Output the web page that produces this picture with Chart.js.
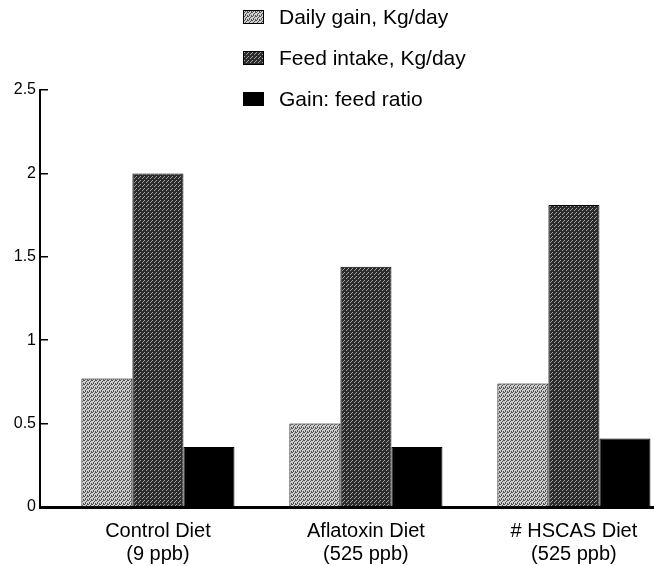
<!DOCTYPE html>
<html>
<head>
<meta charset="utf-8">
<script src="https://cdn.jsdelivr.net/npm/chart.js@4.4.1/dist/chart.umd.min.js"></script>
<style>
    html, body { margin: 0; padding: 0; background: #fff; overflow: hidden; }
    #wrap { width: 654px; height: 566px; }
</style>
</head>
<body>
<div id="wrap"><canvas id="chart" width="654" height="566"></canvas></div>
<script>
// values
const categories = [
    ["Control Diet", "(9 ppb)"],
    ["Aflatoxin Diet", "(525 ppb)"],
    ["# HSCAS Diet", "(525 ppb)"],
];
const seriesNames = ["Daily gain, Kg/day", "Feed intake, Kg/day", "Gain: feed ratio"];
const dailyGain = [0.77, 0.50, 0.74];
const feedIntake = [2.00, 1.44, 1.81];
const gainFeedRatio = [0.36, 0.36, 0.41];
const yTicks = [0, 0.5, 1, 1.5, 2, 2.5];

const FONT = "'Liberation Sans', Arial, Helvetica, sans-serif";

// small stipple patterns to imitate the printed screens
function makePattern(base, dot, cells) {
    const c = document.createElement("canvas");
    c.width = 4;
    c.height = 4;
    const g = c.getContext("2d");
    g.fillStyle = base;
    g.fillRect(0, 0, 4, 4);
    g.fillStyle = dot;
    cells.forEach(([x, y]) => g.fillRect(x, y, 1, 1));
    return g.createPattern(c, "repeat");
}

const lightScreen = makePattern("#cfcfcf", "#505050", [[0, 0], [2, 1], [1, 2], [3, 3], [3, 0], [1, 3]]);
const darkScreen = makePattern("#2c2c2c", "#a0a0a0", [[0, 0], [2, 2], [3, 1]]);

const toPoints = arr => arr.map((v, i) => ({ x: i, y: v }));

// legend drawn as a stacked column above the plot
const stackedLegend = {
    id: "stackedLegend",
    afterDraw(chart) {
        const ctx = chart.ctx;
        ctx.save();
        ctx.font = "21px " + FONT;
        ctx.textBaseline = "middle";
        chart.data.datasets.forEach((ds, i) => {
            const cy = 17 + i * 41;
            ctx.fillStyle = ds.backgroundColor;
            ctx.fillRect(243, cy - 7, 21, 14);
            ctx.strokeStyle = "#000";
            ctx.lineWidth = 1;
            ctx.strokeRect(243.5, cy - 6.5, 20, 13);
            ctx.fillStyle = "#000";
            ctx.fillText(ds.label, 279, cy + 1);
        });
        ctx.restore();
    }
};

new Chart(document.getElementById("chart"), {
    type: "bar",
    data: {
        datasets: [
            {
                label: seriesNames[0],
                data: toPoints(dailyGain),
                backgroundColor: lightScreen,
                borderColor: "#000",
                borderWidth: 1,
            },
            {
                label: seriesNames[1],
                data: toPoints(feedIntake),
                backgroundColor: darkScreen,
                borderColor: "#000",
                borderWidth: 1,
            },
            {
                label: seriesNames[2],
                data: toPoints(gainFeedRatio),
                backgroundColor: "#000",
                borderColor: "#000",
                borderWidth: 1,
            },
        ],
    },
    options: {
        responsive: false,
        animation: false,
        layout: { padding: { top: 90, right: 0, bottom: 0, left: 0 } },
        datasets: {
            bar: { categoryPercentage: 0.736, barPercentage: 1 },
        },
        plugins: {
            legend: { display: false },
            tooltip: { enabled: false },
        },
        scales: {
            x: {
                type: "linear",
                offset: false,
                min: -0.567,
                max: 2.385,
                afterBuildTicks: scale => {
                    scale.ticks = categories.map((_, i) => ({ value: i }));
                },
                afterFit: scale => {
                    scale.height = 59;
                },
                ticks: {
                    color: "#000",
                    font: { family: FONT, size: 20, lineHeight: 1.15 },
                    padding: 13,
                    maxRotation: 0,
                    autoSkip: false,
                    callback: value => categories[value],
                },
                grid: { display: true, drawOnChartArea: false, drawTicks: false },
                border: { display: true, color: "#000", width: 3 },
            },
            y: {
                min: 0,
                max: 2.5,
                afterBuildTicks: scale => {
                    scale.ticks = yTicks.map(v => ({ value: v }));
                },
                afterFit: scale => {
                    scale.width = 40;
                },
                ticks: {
                    color: "#000",
                    font: { family: FONT, size: 16 },
                    padding: 12,
                    callback: value => String(value),
                },
                grid: { drawOnChartArea: false, color: "#000", tickLength: -8, lineWidth: 1.5 },
                border: { display: true, color: "#000", width: 2 },
            },
        },
    },
    plugins: [stackedLegend],
});
</script>
</body>
</html>
